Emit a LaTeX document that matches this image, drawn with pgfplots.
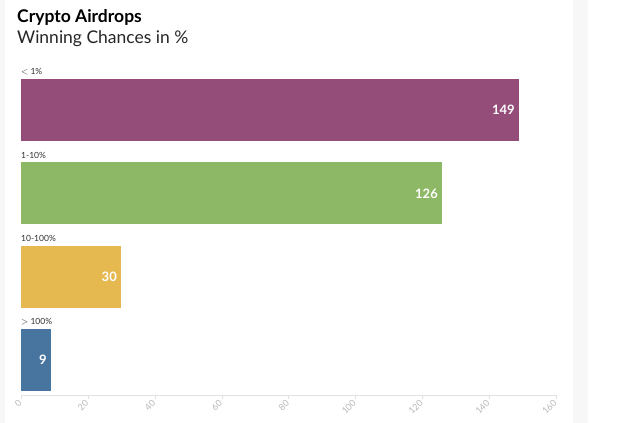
\documentclass[border=0pt]{standalone}
\usepackage{pgfplots}
\pgfplotsset{compat=1.18}
\usepackage{fontspec}
\setmainfont{Lato}
\definecolor{cpurple}{RGB}{148,76,120}
\definecolor{cgreen}{RGB}{141,184,102}
\definecolor{cyellow}{RGB}{230,185,80}
\definecolor{cblue}{RGB}{72,117,160}
\definecolor{tickgray}{RGB}{185,185,185}
\definecolor{linegray}{RGB}{225,225,225}
\begin{document}
\begin{tikzpicture}
\path[use as bounding box, fill=white] (0,0) rectangle (630bp,423bp);
\fill[black!3] (0,0) rectangle (5bp,423bp);
\fill[black!3] (573bp,0) rectangle (588bp,423bp);
\node[anchor=base west, inner sep=0pt, font=\fontsize{17.5bp}{20bp}\selectfont\bfseries] at (17bp,400bp) {Crypto Airdrops};
\node[anchor=base west, inner sep=0pt, font=\fontsize{17.5bp}{20bp}\selectfont, text=black!85] at (17bp,379bp) {Winning Chances in \%};
\begin{axis}[
  at={(21bp,28bp)}, anchor=south west,
  scale only axis,
  width=535bp, height=335bp,
  xmin=0, xmax=160,
  ymin=-0.6, ymax=3.42,
  y dir=reverse,
  xbar, bar width=0.744, bar shift=0pt,
  axis y line=none,
  axis x line*=bottom,
  x axis line style={draw=linegray, -},
  xtick={0,20,...,160},
  tick style={draw=linegray},
  major tick length=4bp,
  xtick align=outside,
  /pgf/number format/assume math mode=true,
  xticklabel style={rotate=45, anchor=east, text=tickgray, font=\fontsize{9bp}{10bp}\selectfont, xshift=1bp, yshift=-1bp},
  nodes near coords,
  every node near coord/.append style={anchor=east, text=white, font=\fontsize{13bp}{14bp}\selectfont\bfseries, xshift=-1bp},
  point meta=x,
  clip=false,
]
\addplot[fill=cpurple, draw=none] coordinates {(149,0)};
\addplot[fill=cgreen, draw=none] coordinates {(126,1)};
\addplot[fill=cyellow, draw=none] coordinates {(30,2)};
\addplot[fill=cblue, draw=none] coordinates {(9,3)};
\foreach \lab/\k in {{$<$ 1\%}/0, {1-10\%}/1, {10-100\%}/2, {$>$ 100\%}/3} {
  \edef\temp{\noexpand\node[anchor=west, inner sep=0pt, text=black!80, font=\noexpand\fontsize{8.5bp}{9bp}\noexpand\selectfont] at (axis cs:0,\k-0.46) {\unexpanded\expandafter{\lab}};}
  \temp
}
\end{axis}
\end{tikzpicture}
\end{document}
